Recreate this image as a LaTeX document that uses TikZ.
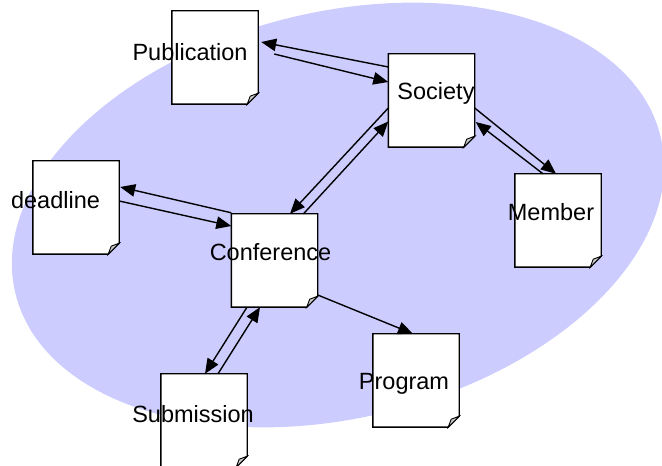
\documentclass[tikz,border=0pt]{standalone}
\usepackage{fontspec}
\setmainfont{Liberation Sans}
\usetikzlibrary{arrows.meta,calc}
\definecolor{lav}{RGB}{204,204,255}
\definecolor{foldgray}{RGB}{200,200,200}
\begin{document}
\begin{tikzpicture}[x=1pt,y=1pt,
  doc/.style={rectangle,minimum width=86pt,minimum height=93pt,inner sep=0pt,draw=none},
  docline/.style={draw=black,line width=1.4pt,fill=white,line join=miter},
  foldline/.style={draw=black,line width=0.9pt,fill=foldgray},
  lbl/.style={anchor=base,inner sep=0pt,font=\fontsize{23.5}{28}\selectfont},
  link/.style={draw=black,line width=1.4pt,-{Triangle[length=15pt,width=12.5pt]}}]
\useasboundingbox (0,0) rectangle (662,466);
\clip (0,0) rectangle (662,466);

% background domain
\fill[lav, rotate around={13.7:(338,251)}] (338,251) ellipse[x radius=332, y radius=203];

% document nodes
\node[doc] (pub)  at (215,408.5) {};
\node[doc] (soc)  at (431.5,365.5) {};
\node[doc] (dl)   at (76,258.5) {};
\node[doc] (conf) at (274.5,205.5) {};
\node[doc] (mem)  at (558,245.5) {};
\node[doc] (prog) at (416,85.5) {};
\node[doc] (sub)  at (204,45.5) {};

% page outline with a folded bottom-right corner
\foreach \n in {pub,soc,dl,conf,mem,prog,sub}{
  \draw[docline] (\n.north west) -- (\n.north east) -- ([yshift=11pt]\n.south east)
    -- ([xshift=-11pt]\n.south east) -- (\n.south west) -- cycle;
  \draw[foldline] ([yshift=11pt]\n.south east) -- ([xshift=-8pt,yshift=8pt]\n.south east)
    -- ([xshift=-11pt]\n.south east) -- cycle;
}

% associations
\draw[link] ($(soc.west)+(0,33.5)$) -- ($(pub.east)+(3,15.5)$);
\draw[link] ($(pub.east)+(16,3.5)$) -- ($(soc.west)+(0,18.5)$);
\draw[link] ($(soc.west)+(0,-7.5)$) -- ($(conf.north)+(15.5,0)$);
\draw[link] ($(conf.north)+(29,0)$) -- ($(soc.west)+(0,-21)$);
\draw[link] ($(soc.east)+(0,-7.5)$) -- ($(mem.north)+(-2,0)$);
\draw[link] ($(mem.north)+(-15,0)$) -- ($(soc.east)+(1,-21.5)$);
\draw[link] ($(conf.north west)+(0,1)$) -- ($(dl.east)+(1,20.5)$);
\draw[link] ($(dl.east)+(0,6.5)$) -- ($(conf.west)+(0,34.5)$);
\draw[link] ($(conf.south)+(-27.5,0)$) -- ($(sub.north)+(1,0)$);
\draw[link] ($(sub.north)+(14,0)$) -- ($(conf.south)+(-14.5,0)$);
\draw[link] ($(conf.east)+(0,-34.5)$) -- ($(prog.north)+(-3,0)$);

% labels
\node[lbl] (tpub)  at (190,405)    {Publication};
\node[lbl] (tsoc)  at (436,366)    {Society};
\node[lbl] (tdl)   at (55.5,257.7) {deadline};
\node[lbl] (tconf) at (270.5,205.3) {Conference};
\node[lbl] (tmem)  at (551,245.3)  {Member};
\node[lbl] (tprog) at (404,76)     {Program};
\node[lbl] (tsub)  at (193,43.3)   {Submission};
\end{tikzpicture}
\end{document}
